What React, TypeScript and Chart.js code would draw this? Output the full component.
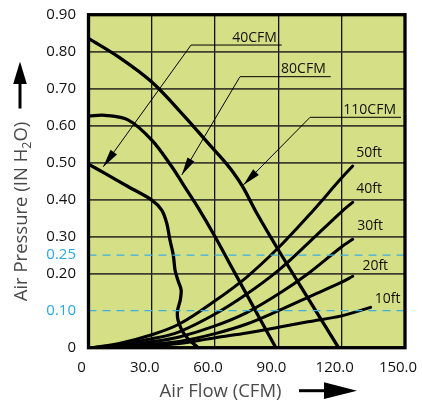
import React, { useEffect, useRef } from 'react';
import { Chart, registerables } from 'chart.js';

Chart.register(...registerables);

const FONT = "'Open Sans', 'Noto Sans', sans-serif";

// ---- axes ----
const xTickValues = [0, 30, 60, 90, 120, 150];
const yTickValues = [0, 0.1, 0.2, 0.25, 0.3, 0.4, 0.5, 0.6, 0.7, 0.8, 0.9];
const yHighlightValues = [0.1, 0.25];

// ---- fan performance curves ----
const fan40X = [0, 7.8, 18.9, 30, 34.7, 37.1, 38.6, 40.2, 41, 42.5, 43.9, 43.5, 42.2, 42.4, 44.2, 47, 52];
const fan40Y = [0.496, 0.471, 0.435, 0.399, 0.372, 0.336, 0.291, 0.25, 0.21, 0.18, 0.156, 0.129, 0.1, 0.075, 0.048, 0.025, 0];

const fan80X = [0, 7.9, 18.9, 30, 39.5, 45, 52, 60, 68, 76, 82, 88.8];
const fan80Y = [0.626, 0.628, 0.615, 0.561, 0.489, 0.44, 0.378, 0.3, 0.216, 0.133, 0.07, 0];

const fan110X = [0, 14.2, 30, 45.7, 56.8, 63.9, 68.7, 73.4, 79.7, 90, 104, 118.5];
const fan110Y = [0.836, 0.786, 0.718, 0.624, 0.552, 0.507, 0.473, 0.432, 0.364, 0.264, 0.134, 0];

// ---- system (head) curves ----
const sysX = [2, 15, 30, 43, 60, 75, 90, 104, 120];
const sys50Y = [0, 0.012, 0.035, 0.064, 0.127, 0.191, 0.27, 0.355, 0.459];
const sys40Y = [0, 0.009, 0.024, 0.043, 0.091, 0.145, 0.209, 0.282, 0.368];
const sys30Y = [0, 0.006, 0.016, 0.029, 0.059, 0.095, 0.145, 0.2, 0.273];
const sys20Y = [0, 0.004, 0.01, 0.017, 0.038, 0.064, 0.1, 0.136, 0.177];
const sys10Y = [0, 0.002, 0.005, 0.011, 0.027, 0.04, 0.055, 0.07, 0.086];
const sysEndX = [125.2, 125.2, 125.2, 125.2, 133.7];
const sysEndY = [0.491, 0.393, 0.293, 0.193, 0.109];
const sysLabels = ['50ft', '40ft', '30ft', '20ft', '10ft'];
const sysLabelX = [133.0, 133.0, 133.5, 135.9, 141.8];
const sysLabelY = [0.525, 0.429, 0.33, 0.222, 0.132];

// ---- fan curve call-outs ----
const leaderLabels = ['40CFM', '80CFM', '110CFM'];
const leaderEndX = [91.6, 114.8, 148.1];
const leaderCornerX = [48.6, 71.8, 105];
const leaderLineY = [0.818, 0.7325, 0.6227];
const leaderTipX = [7.0, 44.2, 73.4];
const leaderTipY = [0.489, 0.467, 0.44];

const pts = (xs: number[], ys: number[]) => xs.map((x, i) => ({ x, y: ys[i] }));

function curve(data: { x: number; y: number }[], width = 3.2, tension = 0.35) {
  return {
    data,
    borderColor: '#000',
    backgroundColor: '#000',
    borderWidth: width,
    pointRadius: 0,
    showLine: true,
    tension,
    fill: false,
    borderCapStyle: 'round' as const,
  };
}

const decor = {
  id: 'decor',
  beforeDraw(chart: any) {
    const { ctx, chartArea: a } = chart;
    ctx.save();
    ctx.fillStyle = '#d4df86';
    ctx.fillRect(a.left, a.top, a.right - a.left, a.bottom - a.top);
    ctx.restore();
  },
  afterDatasetsDraw(chart: any) {
    const { ctx } = chart;
    const xs = chart.scales.x;
    const ys = chart.scales.y;
    ctx.save();
    for (let i = 0; i < leaderLabels.length; i++) {
      const tx = xs.getPixelForValue(leaderTipX[i]);
      const ty = ys.getPixelForValue(leaderTipY[i]);
      const cx = xs.getPixelForValue(leaderCornerX[i]);
      const cy = ys.getPixelForValue(leaderLineY[i]);
      const ang = Math.atan2(ty - cy, tx - cx);
      const L = 18;
      const W = 4;
      const bx = tx - L * Math.cos(ang);
      const by = ty - L * Math.sin(ang);
      ctx.fillStyle = '#000';
      ctx.beginPath();
      ctx.moveTo(tx, ty);
      ctx.lineTo(bx + W * Math.sin(ang), by - W * Math.cos(ang));
      ctx.lineTo(bx - W * Math.sin(ang), by + W * Math.cos(ang));
      ctx.closePath();
      ctx.fill();

      const ex = xs.getPixelForValue(leaderEndX[i]);
      ctx.font = `14px ${FONT}`;
      ctx.textAlign = 'right';
      ctx.textBaseline = 'alphabetic';
      ctx.fillStyle = '#111';
      ctx.fillText(leaderLabels[i], ex - 5, cy - 3.5);
    }
    for (let i = 0; i < sysLabels.length; i++) {
      ctx.font = `14px ${FONT}`;
      ctx.textAlign = 'center';
      ctx.textBaseline = 'middle';
      ctx.fillStyle = '#111';
      ctx.fillText(sysLabels[i], xs.getPixelForValue(sysLabelX[i]), ys.getPixelForValue(sysLabelY[i]));
    }
    ctx.restore();
  },
  afterDraw(chart: any) {
    const { ctx, chartArea: a } = chart;
    ctx.save();
    ctx.strokeStyle = '#000';
    ctx.lineWidth = 3.3;
    ctx.strokeRect(a.left, a.top, a.right - a.left, a.bottom - a.top);

    const grey = '#4a4a4a';
    ctx.fillStyle = grey;
    ctx.font = `18.5px ${FONT}`;
    ctx.textAlign = 'center';
    ctx.textBaseline = 'alphabetic';
    ctx.fillText('Air Flow (CFM)', 220.5, 397);

    ctx.save();
    ctx.translate(27, 211.5);
    ctx.rotate(-Math.PI / 2);
    const big = `18.5px ${FONT}`;
    const small = `12.5px ${FONT}`;
    const p1 = 'Air Pressure (IN H';
    const p2 = '2';
    const p3 = 'O)';
    ctx.font = big;
    const w1 = ctx.measureText(p1).width;
    const w3 = ctx.measureText(p3).width;
    ctx.font = small;
    const w2 = ctx.measureText(p2).width;
    const total = w1 + w2 + w3;
    let x0 = -total / 2;
    ctx.textAlign = 'left';
    ctx.font = big;
    ctx.fillText(p1, x0, 0);
    x0 += w1;
    ctx.font = small;
    ctx.fillText(p2, x0, 4);
    x0 += w2;
    ctx.font = big;
    ctx.fillText(p3, x0, 0);
    ctx.restore();

    ctx.fillStyle = '#000';
    ctx.strokeStyle = '#000';
    ctx.lineWidth = 3;
    ctx.beginPath();
    ctx.moveTo(20, 108.5);
    ctx.lineTo(20, 80);
    ctx.stroke();
    ctx.beginPath();
    ctx.moveTo(20, 61.5);
    ctx.lineTo(26.8, 84);
    ctx.lineTo(13.2, 84);
    ctx.closePath();
    ctx.fill();

    ctx.beginPath();
    ctx.moveTo(299, 390.7);
    ctx.lineTo(328, 390.7);
    ctx.stroke();
    ctx.beginPath();
    ctx.moveTo(357, 390.7);
    ctx.lineTo(324, 382.3);
    ctx.lineTo(324, 399.1);
    ctx.closePath();
    ctx.fill();
    ctx.restore();
  },
};

export default function App() {
  const ref = useRef<HTMLCanvasElement | null>(null);

  useEffect(() => {
    if (!ref.current) return;
    const dashed = (y: number) => ({
      data: [
        { x: 0, y },
        { x: 150, y },
      ],
      borderColor: '#3cb0e2',
      borderWidth: 1.3,
      borderDash: [8, 6],
      pointRadius: 0,
      showLine: true,
      fill: false,
    });
    const datasets: any[] = [
      ...yHighlightValues.map((v) => dashed(v)),
      ...leaderLabels.map((_, i) => ({
        data: [
          { x: leaderEndX[i], y: leaderLineY[i] },
          { x: leaderCornerX[i], y: leaderLineY[i] },
          { x: leaderTipX[i], y: leaderTipY[i] },
        ],
        borderColor: '#000',
        borderWidth: 1,
        pointRadius: 0,
        showLine: true,
        tension: 0,
        fill: false,
      })),
      curve(pts(fan40X, fan40Y), 3.3, 0.3),
      curve(pts(fan80X, fan80Y), 3.3),
      curve(pts(fan110X, fan110Y), 3.3),
      ...[sys50Y, sys40Y, sys30Y, sys20Y, sys10Y].map((ys, i) =>
        curve([...pts(sysX, ys), { x: sysEndX[i], y: sysEndY[i] }], 3)
      ),
    ];

    const chart = new Chart(ref.current, {
      type: 'scatter',
      data: { datasets },
      plugins: [decor],
      options: {
        animation: false,
        responsive: false,
        devicePixelRatio: 1,
        layout: { padding: { top: 14.7, right: 17, bottom: 0, left: 0 } },
        plugins: { legend: { display: false }, tooltip: { enabled: false } },
        scales: {
          x: {
            type: 'linear',
            min: 0,
            max: 150,
            afterBuildTicks: (s: any) => {
              s.ticks = xTickValues.map((value) => ({ value }));
            },
            afterFit: (s: any) => {
              s.height = 58.3;
              s.paddingLeft = 0;
              s.paddingRight = 0;
            },
            ticks: {
              autoSkip: false,
              maxRotation: 0,
              padding: 11,
              labelOffset: -7,
              color: '#111',
              font: { family: FONT, size: 15 },
              callback: (v: any) => (Number(v) === 0 ? '0' : Number(v).toFixed(1)),
            },
            grid: { color: '#111', lineWidth: 1.3, drawTicks: false },
            border: { display: false },
          },
          y: {
            type: 'linear',
            min: 0,
            max: 0.9,
            afterBuildTicks: (s: any) => {
              s.ticks = yTickValues.map((value) => ({ value }));
            },
            afterFit: (s: any) => {
              s.width = 88.5;
              s.paddingTop = 0;
              s.paddingBottom = 0;
            },
            ticks: {
              autoSkip: false,
              padding: 12.5,
              font: { family: FONT, size: 15 },
              color: (c: any) => (yHighlightValues.includes(c.tick?.value) ? '#29a9e1' : '#111'),
              callback: (v: any) => (Number(v) === 0 ? '0' : Number(v).toFixed(2)),
            },
            grid: {
              drawTicks: false,
              lineWidth: 1.8,
              color: (c: any) =>
                yHighlightValues.includes(c.tick?.value) ? 'rgba(0,0,0,0)' : 'rgba(45,45,35,0.9)',
            },
            border: { display: false },
          },
        },
      } as any,
    });
    return () => chart.destroy();
  }, []);

  return (
    <div style={{ position: 'absolute', left: 0, top: 0, width: 422, height: 406, background: '#fff' }}>
      <canvas ref={ref} width={422} height={406} style={{ display: 'block' }} />
    </div>
  );
}
